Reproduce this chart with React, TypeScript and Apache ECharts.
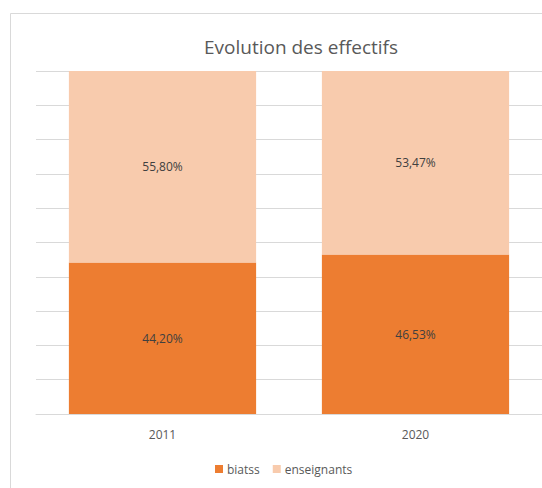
import React, { useEffect, useRef } from "react";
import * as echarts from "echarts";

const categories = ["2011", "2020"];
const biatss = [44.2, 46.53];
const enseignants = [55.8, 53.47];
const seriesNames = ["biatss", "enseignants"];
const titleText = "Evolution des effectifs";

const FONT = "'Open Sans', 'Noto Sans', sans-serif";

const fmt = (v: number) => v.toFixed(2).replace(".", ",") + "%";

export default function App() {
  const ref = useRef<HTMLDivElement>(null);
  useEffect(() => {
    document.body.style.margin = "0";
    const chart = echarts.init(ref.current!, null, { renderer: "svg" });
    const labelStyle = {
      show: true,
      position: "inside" as const,
      color: "#404040",
      fontFamily: FONT,
      fontSize: 12,
      formatter: (p: any) => fmt(p.value),
    };
    chart.setOption({
      animation: false,
      backgroundColor: "#ffffff",
      title: {
        text: titleText,
        left: 301,
        textAlign: "center",
        top: 37,
        padding: 0,
        textStyle: { color: "#595959", fontFamily: FONT, fontSize: 19, fontWeight: "normal" },
      },
      graphic: [
        {
          type: "rect",
          shape: { x: 10.5, y: 13.5, width: 700, height: 700 },
          style: { fill: "none", stroke: "#d9d9d9", lineWidth: 1 },
          silent: true,
        },
      ],
      legend: {
        data: seriesNames,
        left: 215,
        top: 463,
        padding: 0,
        itemWidth: 8,
        itemHeight: 8,
        itemGap: 13,
        icon: "rect",
        textStyle: { color: "#595959", fontFamily: FONT, fontSize: 12, padding: [0, 0, 0, -1] },
      },
      grid: { left: 36, right: 0, top: 71, bottom: 74, containLabel: false },
      xAxis: {
        type: "category",
        data: categories,
        axisLine: { lineStyle: { color: "#d9d9d9", width: 1 } },
        axisTick: { show: false },
        axisLabel: { color: "#595959", fontFamily: FONT, fontSize: 12, margin: 14 },
      },
      yAxis: {
        type: "value",
        min: 0,
        max: 100,
        interval: 10,
        axisLabel: { show: false },
        axisLine: { show: false },
        axisTick: { show: false },
        splitLine: { lineStyle: { color: "#d9d9d9", width: 1 } },
      },
      series: [
        {
          name: seriesNames[0],
          type: "bar",
          stack: "total",
          data: biatss,
          barCategoryGap: "26%",
          itemStyle: { color: "#ED7D31" },
          label: labelStyle,
        },
        {
          name: seriesNames[1],
          type: "bar",
          stack: "total",
          data: enseignants,
          barCategoryGap: "26%",
          itemStyle: { color: "#F8CBAD" },
          label: labelStyle,
        },
      ],
    });
    return () => chart.dispose();
  }, []);
  return <div ref={ref} style={{ width: 542, height: 488, position: "absolute", left: 0, top: 0 }} />;
}
